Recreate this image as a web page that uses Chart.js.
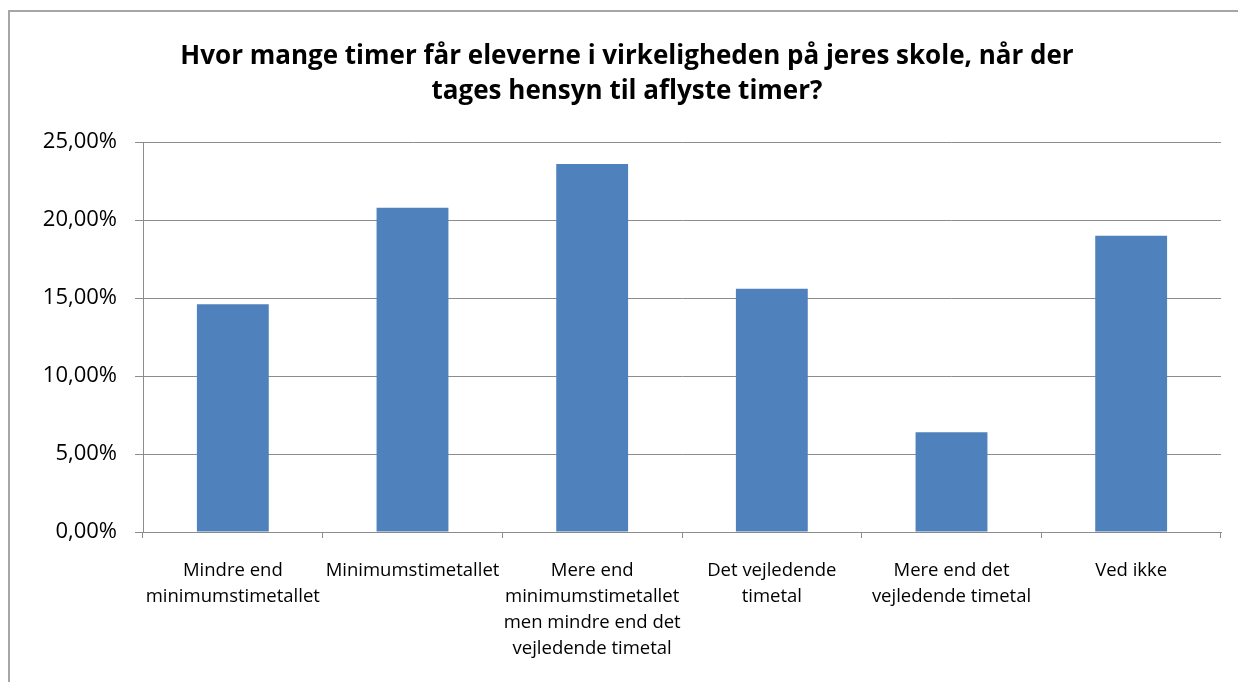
<!DOCTYPE html>
<html lang="da">
<head>
    <meta charset="UTF-8">
    <title>Aflyste timer</title>
    <script src="https://cdn.jsdelivr.net/npm/chart.js@4.4.0/dist/chart.umd.min.js"></script>
    <style>
        html, body {
            margin: 0;
            padding: 0;
            background: #fff;
            overflow: hidden;
        }
        #wrap {
            position: relative;
            width: 1238px;
            height: 682px;
        }
        #frame {
            position: absolute;
            left: 8px;
            top: 10px;
            width: 1300px;
            height: 800px;
            border: 2px solid #a6a6a6;
            pointer-events: none;
        }
    </style>
</head>
<body>
    <div id="wrap">
        <canvas id="chart" width="1238" height="682"></canvas>
        <div id="frame"></div>
    </div>

    <script>
        const titleLines = [
            'Hvor mange timer får eleverne i virkeligheden på jeres skole, når der',
            'tages hensyn til aflyste timer?'
        ];
        const categories = [
            ['Mindre end', 'minimumstimetallet'],
            'Minimumstimetallet',
            ['Mere end', 'minimumstimetallet', 'men mindre end det', 'vejledende timetal'],
            ['Det vejledende', 'timetal'],
            ['Mere end det', 'vejledende timetal'],
            'Ved ikke'
        ];
        const shares = [14.6, 20.8, 23.6, 15.6, 6.4, 19.0];
        const yMax = 25;
        const yStep = 5;

        const gridColor = '#8c8c8c';
        const fontFamily = '"Open Sans", Lato, sans-serif';

        new Chart(document.getElementById('chart'), {
            type: 'bar',
            data: {
                labels: categories,
                datasets: [{
                    data: shares,
                    backgroundColor: '#4f81bd',
                    borderWidth: 0,
                    barPercentage: 0.4,
                    categoryPercentage: 1
                }]
            },
            options: {
                responsive: false,
                animation: false,
                layout: {
                    padding: { left: 33, right: 17, top: 0, bottom: 0 }
                },
                plugins: {
                    legend: { display: false },
                    tooltip: { enabled: false },
                    title: {
                        display: true,
                        text: titleLines,
                        color: '#000',
                        font: { family: fontFamily, size: 26, weight: 'bold', lineHeight: 1.35 },
                        padding: { top: 39, bottom: 33 }
                    }
                },
                scales: {
                    x: {
                        grid: {
                            drawOnChartArea: false,
                            drawTicks: true,
                            tickLength: 6,
                            color: gridColor
                        },
                        border: { color: gridColor, width: 1 },
                        ticks: {
                            color: '#000',
                            padding: 20,
                            maxRotation: 0,
                            autoSkip: false,
                            font: { family: fontFamily, size: 18.5, lineHeight: 1.4 }
                        },
                        afterFit: scale => { scale.height = 150; }
                    },
                    y: {
                        min: 0,
                        max: yMax,
                        grid: {
                            color: gridColor,
                            tickLength: 8
                        },
                        border: { color: gridColor, width: 1 },
                        ticks: {
                            stepSize: yStep,
                            color: '#000',
                            padding: 18,
                            font: { family: fontFamily, size: 22 },
                            callback: v => v.toFixed(2).replace('.', ',') + '%'
                        },
                        afterFit: scale => { scale.width = 110; }
                    }
                }
            }
        });
    </script>
</body>
</html>
